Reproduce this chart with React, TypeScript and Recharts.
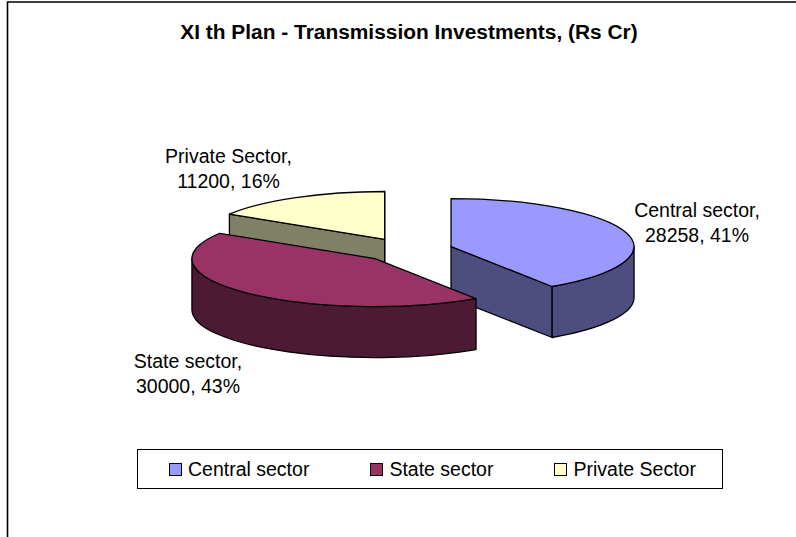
import { PieChart, Pie, Legend } from "recharts";

const categories = ["Private Sector", "Central sector", "State sector"];
const values = [11200, 28258, 30000];
const percents = [16, 41, 43];
const legendOrder = ["Central sector", "State sector", "Private Sector"];

const TOP_COLORS: Record<string, string> = {
  "Central sector": "#9999FF",
  "State sector": "#993366",
  "Private Sector": "#FFFFCC",
};
const WALL_COLORS: Record<string, string> = {
  "Central sector": "#4D4D80",
  "State sector": "#4D1A33",
  "Private Sector": "#808066",
};
const LABEL_POS: Record<string, [number, number]> = {
  "Central sector": [697, 217],
  "State sector": [188, 368],
  "Private Sector": [228.5, 163],
};

const TILT = 0.262;
const DEPTH = 51;
const EXPLODE = 46;
const FONT = "'Liberation Sans', Arial, sans-serif";

const data = categories.map((name, i) => ({
  name,
  value: values[i],
  fill: TOP_COLORS[name],
}));

// Private goes first so the state slice paints over its wall, the start angle keeps central at 12 o'clock
const total = values.reduce((a, b) => a + b, 0);
const START = 90 + (values[0] / total) * 360;

function Slice3D(props: any) {
  const { cx, cy, outerRadius, startAngle, endAngle, name } = props;
  // recharts angles to clockwise-from-top degrees
  const a0 = 90 - startAngle;
  const a1 = 90 - endAngle;
  const rx = outerRadius;
  const ry = outerRadius * TILT;
  const mid = (((a0 + a1) / 2) * Math.PI) / 180;
  const ox = cx + EXPLODE * Math.sin(mid);
  const oy = cy - EXPLODE * TILT * Math.cos(mid);
  const pt = (deg: number, dy = 0) => {
    const r = (deg * Math.PI) / 180;
    return [ox + rx * Math.sin(r), oy - ry * Math.cos(r) + dy];
  };
  const norm = (d: number) => ((d % 360) + 360) % 360;
  const stroke = { stroke: "#000", strokeWidth: 1.3, strokeLinejoin: "round" as const };
  const wall = WALL_COLORS[name];

  const parts = [];
  // cut faces, only the ones turned to the viewer
  const cut = (deg: number, key: string) => {
    const p = pt(deg);
    const q = pt(deg, DEPTH);
    return (
      <path
        key={key}
        d={`M${ox},${oy} L${p[0]},${p[1]} L${q[0]},${q[1]} L${ox},${oy + DEPTH} Z`}
        fill={wall}
        {...stroke}
      />
    );
  };
  if (norm(a0) > 180) parts.push(cut(a0, "start"));
  if (norm(a1) > 0 && norm(a1) < 180) parts.push(cut(a1, "end"));

  // rim wall on the front half
  const rimFrom = Math.max(a0, 90);
  const rimTo = Math.min(a1, 270);
  if (rimTo > rimFrom) {
    const p = pt(rimFrom);
    const q = pt(rimTo);
    parts.push(
      <path
        key="rim"
        d={`M${p[0]},${p[1]} A${rx},${ry} 0 0 1 ${q[0]},${q[1]} L${q[0]},${q[1] + DEPTH} A${rx},${ry} 0 0 0 ${p[0]},${p[1] + DEPTH} Z`}
        fill={wall}
        {...stroke}
      />
    );
  }

  const s = pt(a0);
  const e = pt(a1);
  const large = a1 - a0 > 180 ? 1 : 0;
  parts.push(
    <path
      key="top"
      d={`M${ox},${oy} L${s[0]},${s[1]} A${rx},${ry} 0 ${large} 1 ${e[0]},${e[1]} Z`}
      fill={TOP_COLORS[name]}
      {...stroke}
    />
  );
  return <g>{parts}</g>;
}

function SliceLabel(props: any) {
  const { name, value } = props;
  const pos = LABEL_POS[name];
  const pct = percents[categories.indexOf(name)];
  return (
    <text x={pos[0]} y={pos[1]} textAnchor="middle" fontFamily={FONT} fontSize={19.5} fill="#000">
      <tspan x={pos[0]} dy={0}>{name},</tspan>
      <tspan x={pos[0]} dy={25}>{`${value}, ${pct}%`}</tspan>
    </text>
  );
}

function LegendBox() {
  return (
    <div
      style={{
        boxSizing: "border-box",
        width: 586,
        height: 40,
        border: "1px solid #000",
        background: "#fff",
        display: "flex",
        alignItems: "center",
        paddingLeft: 31,
        fontFamily: FONT,
        fontSize: 19.5,
        color: "#000",
        whiteSpace: "nowrap",
      }}
    >
      {legendOrder.map((name) => (
        <div key={name} style={{ display: "flex", alignItems: "center", marginRight: 61, flexShrink: 0 }}>
          <span
            style={{
              boxSizing: "border-box",
              width: 13,
              height: 13,
              border: "1px solid #000",
              background: TOP_COLORS[name],
              marginRight: 6,
            }}
          />
          {name}
        </div>
      ))}
    </div>
  );
}

export default function App() {
  return (
    <div style={{ position: "absolute", left: 0, top: 0, width: 796, height: 537, background: "#fff" }}>
      <PieChart width={796} height={537} margin={{ top: 0, right: 0, bottom: 0, left: 0 }}>
        <path d="M7.5,537 L7.5,2 L796,2" fill="none" stroke="#000" strokeWidth={1.6} />
        <text x={409} y={39} textAnchor="middle" fontFamily={FONT} fontSize={20.9} fontWeight="bold" fill="#000">
          XI th Plan - Transmission Investments, (Rs Cr)
        </text>
        <Pie
          data={data}
          dataKey="value"
          nameKey="name"
          cx={407}
          cy={250}
          outerRadius={183}
          startAngle={START}
          endAngle={START - 360}
          isAnimationActive={false}
          shape={Slice3D}
          label={SliceLabel}
          labelLine={false}
        />
        <Legend
          content={<LegendBox />}
          wrapperStyle={{ position: "absolute", left: 137, top: 449, width: 586, height: 40 }}
        />
      </PieChart>
    </div>
  );
}
